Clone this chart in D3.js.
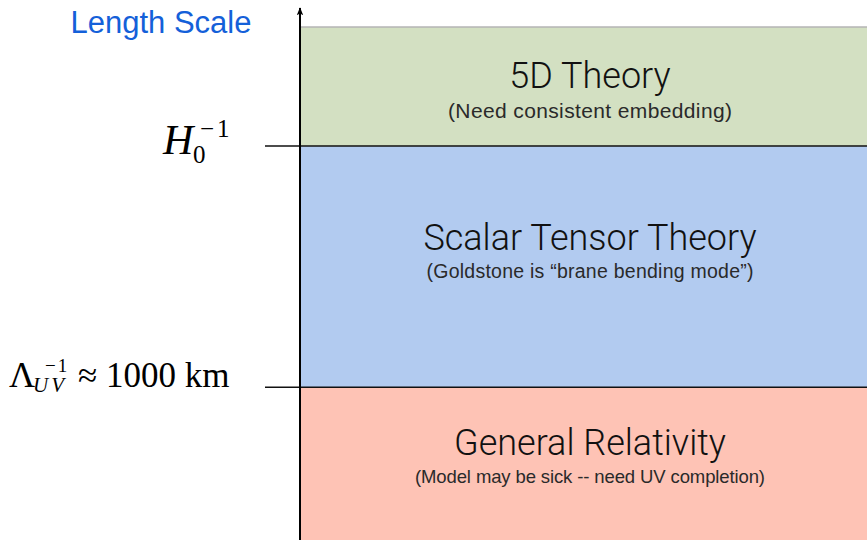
<!DOCTYPE html>
<html>
<head>
<meta charset="utf-8">
<script src="https://cdn.jsdelivr.net/npm/d3@7"></script>
<style>
  body { margin: 0; background: #fff; }
  .title { font-family: "Roboto", "Liberation Sans", sans-serif; font-weight: 300; }
  .note { font-family: "Liberation Sans", "Roboto", sans-serif; }
  .math { font-family: "Liberation Serif", "DejaVu Serif", serif; }
</style>
</head>
<body>
<svg width="867" height="540"></svg>
<script>
// Regimes, from short to long length scale
var regimes = ["General Relativity", "Scalar Tensor Theory", "5D Theory"];
var notes = ["(Model may be sick -- need UV completion)",
             "(Goldstone is \u201cbrane bending mode\u201d)",
             "(Need consistent embedding)"];
var colors = ["#fec3b5", "#b2cbf0", "#d3e0c2"];
// band edges on the length-scale axis (arbitrary units)
var edges = [0, 1.0, 2.58, 3.36];

var svg = d3.select("svg"),
    width = +svg.attr("width"),
    height = +svg.attr("height");

var x0 = 300;
var y = d3.scaleLinear().domain([0, 3.36]).range([540, 27]);

var bands = regimes.map(function(r, i) {
  return { name: r, note: notes[i], color: colors[i], lo: edges[i], hi: edges[i + 1] };
});

// text offsets from band centre and note sizes (layout only)
var titleDy = [-8.5, -16.5, 1.5];
var noteDy = [19.5, 11.5, 31.5];
var noteSize = [18.5, 19.5, 21];
var noteLen = [350, 327, 284];

var g = svg.append("g");

g.selectAll("rect.band")
  .data(bands)
  .enter().append("rect")
    .attr("class", "band")
    .attr("x", x0)
    .attr("width", width - x0)
    .attr("y", function(d) { return y(d.hi); })
    .attr("height", function(d) { return y(d.lo) - y(d.hi); })
    .attr("fill", function(d) { return d.color; });

// grey top edge of the last band
g.append("line")
  .attr("x1", x0).attr("x2", width)
  .attr("y1", y(edges[3])).attr("y2", y(edges[3]))
  .attr("stroke", "#b5b5b5").attr("stroke-width", 1.5);

// boundaries between regimes
g.selectAll("line.edge")
  .data(edges.slice(1, 3))
  .enter().append("line")
    .attr("class", "edge")
    .attr("x1", 265).attr("x2", width)
    .attr("y1", function(d) { return y(d); })
    .attr("y2", function(d) { return y(d); })
    .attr("stroke", "#111").attr("stroke-width", 1.5);

// titles
var mid = 590;
g.selectAll("text.title")
  .data(bands)
  .enter().append("text")
    .attr("class", "title")
    .attr("x", mid)
    .attr("y", function(d, i) { return (y(d.lo) + y(d.hi)) / 2 + titleDy[i]; })
    .attr("text-anchor", "middle")
    .attr("font-size", 36)
    .attr("fill", "#111")
    .text(function(d) { return d.name; });

g.selectAll("text.note")
  .data(bands)
  .enter().append("text")
    .attr("class", "note")
    .attr("x", mid)
    .attr("y", function(d, i) { return (y(d.lo) + y(d.hi)) / 2 + noteDy[i]; })
    .attr("text-anchor", "middle")
    .attr("font-size", function(d, i) { return noteSize[i]; })
    .attr("textLength", function(d, i) { return noteLen[i]; })
    .attr("lengthAdjust", "spacing")
    .attr("fill", "#2a2a2a")
    .text(function(d) { return d.note; });

// vertical axis with arrow
svg.append("defs").append("marker")
    .attr("id", "arrow")
    .attr("viewBox", "0 -5 10 10")
    .attr("refX", 9)
    .attr("markerWidth", 8)
    .attr("markerHeight", 8)
    .attr("markerUnits", "userSpaceOnUse")
    .attr("orient", "auto")
  .append("path")
    .attr("d", "M0,-4L10,0L0,4L2,0Z")
    .attr("fill", "#000");

g.append("line")
  .attr("x1", x0).attr("x2", x0)
  .attr("y1", height).attr("y2", 8)
  .attr("stroke", "#000").attr("stroke-width", 2)
  .attr("marker-end", "url(#arrow)");

svg.append("text")
  .attr("x", 161).attr("y", 33)
  .attr("text-anchor", "middle")
  .attr("font-family", "Liberation Sans, Roboto, sans-serif")
  .attr("font-size", 31)
  .attr("fill", "#1460d9")
  .text("Length Scale");

// axis labels (math)
var yH = y(edges[2]);
svg.append("text").attr("class", "math")
  .attr("x", 163).attr("y", yH + 8)
  .attr("font-size", 42).attr("font-style", "italic")
  .text("H");
svg.append("text").attr("class", "math")
  .attr("x", 193).attr("y", yH + 17)
  .attr("font-size", 25)
  .text("0");
var sup = svg.append("text").attr("class", "math")
  .attr("x", 200).attr("y", yH - 9)
  .attr("font-size", 25);
sup.append("tspan").text("\u2212");
sup.append("tspan").attr("dx", 3).text("1");

var yL = y(edges[1]);
svg.append("text").attr("class", "math")
  .attr("x", 9).attr("y", yL)
  .attr("font-size", 36)
  .text("\u039b");
svg.append("text").attr("class", "math")
  .attr("x", 33).attr("y", yL + 5)
  .attr("font-size", 21).attr("font-style", "italic")
  .attr("letter-spacing", 3)
  .text("UV");
var sup2 = svg.append("text").attr("class", "math")
  .attr("x", 45).attr("y", yL - 15)
  .attr("font-size", 19);
sup2.append("tspan").text("\u2212");
sup2.append("tspan").attr("dx", 2).text("1");
svg.append("text").attr("class", "math")
  .attr("x", 78).attr("y", yL)
  .attr("font-size", 35)
  .text("\u2248 1000 km");
</script>
</body>
</html>
